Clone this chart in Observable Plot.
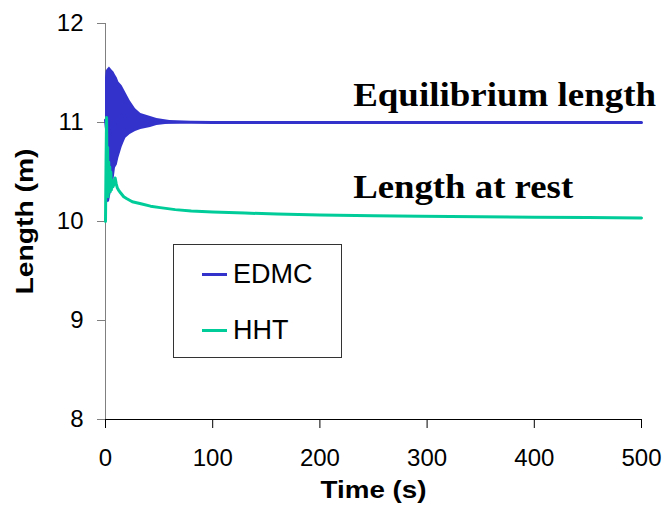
<!DOCTYPE html>
<html>
<head>
<meta charset="utf-8">
<script src="https://cdn.jsdelivr.net/npm/d3@7"></script>
<script src="https://cdn.jsdelivr.net/npm/@observablehq/plot@0.6"></script>
<style>
  body { margin: 0; background: #fff; }
  #wrap { position: relative; width: 668px; height: 507px; }
  #legend { position: absolute; left: 173px; top: 244px; width: 167px; height: 112px;
    border: 1px solid #333; background: #fff; font-family: "Liberation Sans", Arial, sans-serif; font-size: 27px; line-height: 1; }
  .item { position: absolute; left: 28px; display: flex; align-items: center; }
  .sw { width: 25px; height: 3px; margin-right: 6px; }
  svg [aria-label="x-axis label"] text, svg [aria-label="y-axis label"] text { font-weight: bold; }
</style>
</head>
<body>
<div id="wrap"></div>
<script>
const xTicks = [0, 100, 200, 300, 400, 500];
const yTicks = [8, 9, 10, 11, 12];
const xTitle = "Time (s)";
const yTitle = "Length (m)";
const seriesNames = ["EDMC", "HHT"];
const seriesColors = ["#3333CC", "#00CC99"];

// EDMC: high-frequency oscillation, drawn as its envelope
const edmcT     = [0, 0.6, 2, 3.7, 6, 7.8, 9.3, 11, 12.4, 15.5, 17, 19, 23, 28, 33, 42, 48, 60, 80, 100, 500];
const edmcUpper = [11.45, 11.52, 11.54, 11.56, 11.53, 11.51, 11.48, 11.45, 11.41, 11.37, 11.34, 11.3, 11.22, 11.14, 11.09, 11.06, 11.04, 11.02, 11.01, 11.0, 11.0];
const edmcLower = [10.6, 10.4, 10.19, 10.2, 10.33, 10.41, 10.54, 10.57, 10.64, 10.75, 10.79, 10.84, 10.88, 10.91, 10.93, 10.95, 10.97, 10.985, 10.995, 11.0, 11.0];

// HHT
const hhtT = [0, 0.5, 1, 1.5, 2, 2.5, 3, 3.5, 4, 4.5, 5, 5.5, 6, 7, 8, 9, 10, 11, 12, 14, 17, 20, 25, 33, 42, 51, 65, 80, 100, 130, 160, 200, 250, 294, 350, 400, 450, 500];
const hhtV = [10.0, 10.6, 11.05, 10.4, 10.75, 10.25, 10.6, 10.3, 10.55, 10.3, 10.5, 10.32, 10.42, 10.35, 10.38, 10.44, 10.38, 10.34, 10.32, 10.29, 10.25, 10.23, 10.2, 10.18, 10.155, 10.14, 10.12, 10.105, 10.095, 10.085, 10.075, 10.065, 10.058, 10.052, 10.047, 10.043, 10.04, 10.035];

const annTexts = ["Equilibrium length", "Length at rest"];
const annT = [231, 231];
const annV = [11.17, 10.235];

const edmc = edmcT.map((t, i) => ({t, lo: edmcLower[i], hi: edmcUpper[i], mid: (edmcLower[i] + edmcUpper[i]) / 2}));
const hht = hhtT.map((t, i) => ({t, v: hhtV[i]}));
const ann = annTexts.map((s, i) => ({s, t: annT[i], v: annV[i]}));

const chart = Plot.plot({
  width: 668, height: 507,
  marginLeft: 105, marginRight: 27, marginTop: 23, marginBottom: 88,
  x: {domain: [0, 500]},
  y: {domain: [8, 12]},
  style: {fontFamily: "'Liberation Sans', Arial, sans-serif", fontSize: "24px", color: "#000", background: "#fff"},
  marks: [
    Plot.axisX({ticks: xTicks, tickSize: 9, tickPadding: 20, fontSize: 24, tickFormat: d => String(d),
      label: xTitle, labelAnchor: "center", labelOffset: 78, labelArrow: "none", stroke: "#000"}),
    Plot.axisY({ticks: yTicks, tickSize: 8, tickPadding: 14, fontSize: 24, tickFormat: d => String(d),
      label: yTitle, labelAnchor: "center", labelOffset: 90, labelArrow: "none", stroke: "#808080"}),
    Plot.ruleY([8], {stroke: "#000"}),
    Plot.ruleX([0], {stroke: "#808080"}),
    Plot.areaY(edmc, {x: "t", y1: "lo", y2: "hi", fill: seriesColors[0], curve: "linear"}),
    Plot.lineY(edmc, {x: "t", y: "mid", stroke: seriesColors[0], strokeWidth: 3}),
    Plot.lineY(hht, {x: "t", y: "v", stroke: seriesColors[1], strokeWidth: 3}),
    Plot.text(ann, {x: "t", y: "v", text: "s", textAnchor: "start", lineAnchor: "bottom",
      fontFamily: "'Liberation Serif', 'Times New Roman', serif", fontWeight: "bold", fontSize: 34, fill: "#000"})
  ]
});
const wrap = document.getElementById("wrap");
wrap.appendChild(chart);

// stretched text widths as in the reference
const stretch = {"Time (s)": 106, "Length (m)": 146, "Equilibrium length": 303, "Length at rest": 220};
chart.querySelectorAll("text").forEach(el => {
  const s = el.textContent;
  if (stretch[s]) {
    el.setAttribute("textLength", stretch[s]);
    el.setAttribute("lengthAdjust", "spacingAndGlyphs");
  }
});

const leg = document.createElement("div");
leg.id = "legend";
const tops = [16, 72];
seriesNames.forEach((n, i) => {
  const it = document.createElement("div");
  it.className = "item";
  it.style.top = tops[i] + "px";
  const sw = document.createElement("div");
  sw.className = "sw";
  sw.style.background = seriesColors[i];
  const lb = document.createElement("span");
  lb.textContent = n;
  it.appendChild(sw); it.appendChild(lb);
  leg.appendChild(it);
});
wrap.appendChild(leg);
</script>
</body>
</html>
